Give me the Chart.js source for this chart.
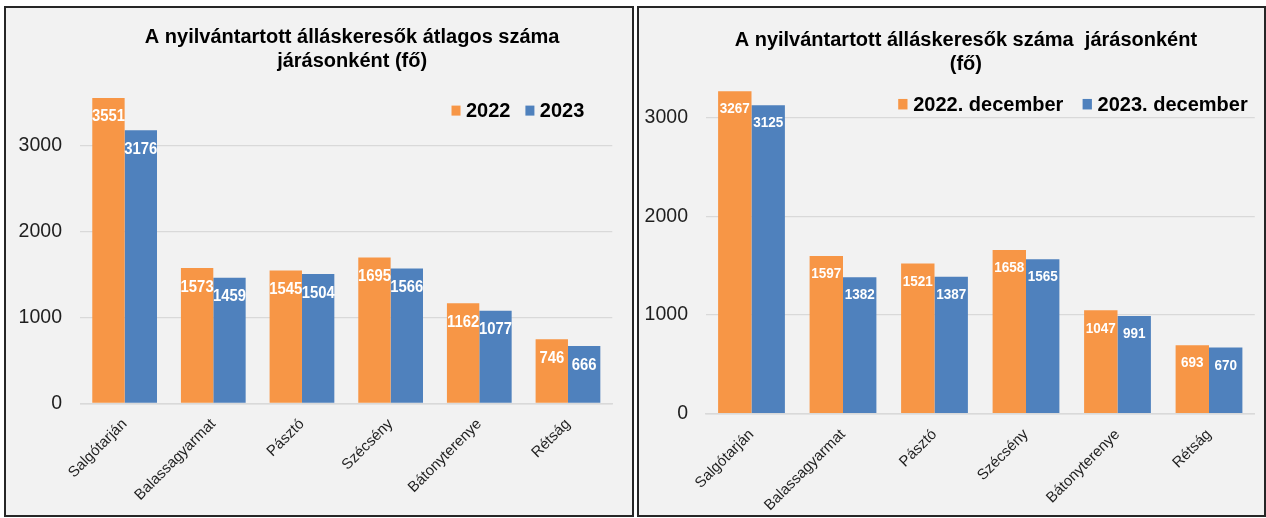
<!DOCTYPE html>
<html>
<head>
<meta charset="utf-8">
<script src="https://cdn.jsdelivr.net/npm/chart.js@4.4.1/dist/chart.umd.min.js"></script>
<style>
  body { margin: 0; background: #fff; width: 1266px; height: 518px; position: relative; overflow: hidden; }
  .panel { position: absolute; top: 6px; height: 511px; box-sizing: border-box; border: 2px solid #262626; background: #f2f2f2; }
  #p1 { left: 4px; width: 630px; }
  #p2 { left: 637px; width: 629px; }
  canvas { display: block; }
</style>
</head>
<body>
<div class="panel" id="p1"><canvas id="c1" width="626" height="507"></canvas></div>
<div class="panel" id="p2"><canvas id="c2" width="625" height="507"></canvas></div>
<script>
const districts = ["Salgótarján", "Balassagyarmat", "Pásztó", "Szécsény", "Bátonyterenye", "Rétság"];

// átlagos szám (bal oldali diagram)
const avgLabels = ["2022", "2023"];
const avg2022 = [3551, 1573, 1545, 1695, 1162, 746];
const avg2023 = [3176, 1459, 1504, 1566, 1077, 666];

// decemberi szám (jobb oldali diagram)
const decLabels = ["2022. december", "2023. december"];
const dec2022 = [3267, 1597, 1521, 1658, 1047, 693];
const dec2023 = [3125, 1382, 1387, 1565, 991, 670];

const yTicks = [0, 1000, 2000, 3000];

const ORANGE = '#f79646';
const BLUE = '#4f81bd';
const FONT = '"Liberation Sans", Arial, sans-serif';

// white value labels just under the top of each bar (slightly narrow, like the original)
const barValueLabels = {
  id: 'barValueLabels',
  afterDatasetsDraw(chart, args, opts) {
    const ctx = chart.ctx;
    chart.data.datasets.forEach((ds, i) => {
      chart.getDatasetMeta(i).data.forEach((bar, j) => {
        ctx.save();
        ctx.fillStyle = '#ffffff';
        ctx.font = 'bold ' + opts.size + 'px ' + FONT;
        ctx.textAlign = 'center';
        ctx.textBaseline = 'middle';
        ctx.translate(bar.x, bar.y + opts.offset);
        ctx.scale(0.9, 1);
        ctx.fillText(ds.data[j], 0, 0);
        ctx.restore();
      });
    });
  }
};

// legend drawn inside the plot area, right aligned
const insideLegend = {
  id: 'insideLegend',
  afterDraw(chart, args, opts) {
    const ctx = chart.ctx;
    ctx.save();
    ctx.font = 'bold 20px ' + FONT;
    ctx.textBaseline = 'middle';
    ctx.textAlign = 'left';
    const items = chart.data.datasets.map(ds => ({
      text: ds.label, color: ds.backgroundColor, w: ctx.measureText(ds.label).width
    }));
    let total = 0;
    items.forEach((it, i) => { total += opts.box + opts.boxGap + it.w + (i ? opts.itemGap : 0); });
    let x = opts.right - total;
    items.forEach(it => {
      ctx.fillStyle = it.color;
      ctx.fillRect(x, opts.y - opts.boxH / 2, opts.box, opts.boxH);
      x += opts.box + opts.boxGap;
      ctx.fillStyle = '#000';
      ctx.fillText(it.text, x, opts.y + 1);
      x += it.w + opts.itemGap;
    });
    ctx.restore();
  }
};

// the title is not centred on the panel in the original
const titleShift = {
  id: 'titleShift',
  afterLayout(chart, args, opts) {
    chart.titleBlock.left += opts.dx;
    chart.titleBlock.right += opts.dx;
  }
};

function makeChart(canvasId, cfg) {
  return new Chart(document.getElementById(canvasId), {
    type: 'bar',
    data: {
      labels: districts,
      datasets: [
        { label: cfg.labels[0], data: cfg.a, backgroundColor: ORANGE },
        { label: cfg.labels[1], data: cfg.b, backgroundColor: BLUE }
      ]
    },
    options: {
      responsive: false,
      animation: false,
      layout: { padding: { left: 0, top: 0, bottom: 0, right: cfg.padRight } },
      datasets: { bar: { categoryPercentage: cfg.catPct, barPercentage: 1 } },
      plugins: {
        legend: { display: false },
        tooltip: { enabled: false },
        title: {
          display: true,
          text: cfg.title,
          color: '#000',
          font: { family: FONT, size: 20, weight: 'bold', lineHeight: 1.2 },
          padding: { top: cfg.titleTop, bottom: cfg.titleBottom }
        },
        titleShift: { dx: cfg.titleDx },
        barValueLabels: { size: cfg.valueSize, offset: cfg.valueOffset },
        insideLegend: cfg.legend
      },
      scales: {
        x: {
          ticks: { minRotation: 45, maxRotation: 45, padding: cfg.xPad, color: '#1f1f1f', font: { family: FONT, size: 15 } },
          afterFit: s => { s.height = cfg.xHeight; },
          grid: { display: false },
          border: { color: '#d9d9d9', width: 1.5 }
        },
        y: {
          min: 0,
          max: cfg.yMax,
          ticks: {
            stepSize: 1000, padding: cfg.yPad, color: '#1f1f1f', font: { family: FONT, size: 19.5 },
            callback: v => String(v)
          },
          afterBuildTicks: s => { s.ticks = yTicks.map(v => ({ value: v })); },
          afterFit: s => { s.width = cfg.yWidth; },
          grid: { color: '#d9d9d9', lineWidth: 1.2, drawTicks: false },
          border: { display: false }
        }
      }
    },
    plugins: [barValueLabels, insideLegend, titleShift]
  });
}

makeChart('c1', {
  labels: avgLabels, a: avg2022, b: avg2023,
  title: ["A nyilvántartott álláskeresők átlagos száma", "járásonként (fő)"],
  titleTop: 17, titleBottom: 3.5, titleDx: 43,
  padRight: 19.7, yWidth: 74.3, yPad: 18.3, yMax: 3800, xHeight: 111.7, xPad: 4,
  catPct: 0.73, valueSize: 16.5, valueOffset: 19,
  legend: { right: 578.3, y: 102.6, box: 9, boxH: 10, boxGap: 5.4, itemGap: 15 }
});

makeChart('c2', {
  labels: decLabels, a: dec2022, b: dec2023,
  title: ["A nyilvántartott álláskeresők száma  járásonként", "(fő)"],
  titleTop: 20, titleBottom: 12, titleDx: 19,
  padRight: 9.25, yWidth: 66.75, yPad: 17.75, yMax: 3300, xHeight: 101.3, xPad: 4,
  catPct: 0.73, valueSize: 15, valueOffset: 18,
  legend: { right: 608.7, y: 96.2, box: 9.3, boxH: 10.5, boxGap: 5.7, itemGap: 19.3 }
});
</script>
</body>
</html>
